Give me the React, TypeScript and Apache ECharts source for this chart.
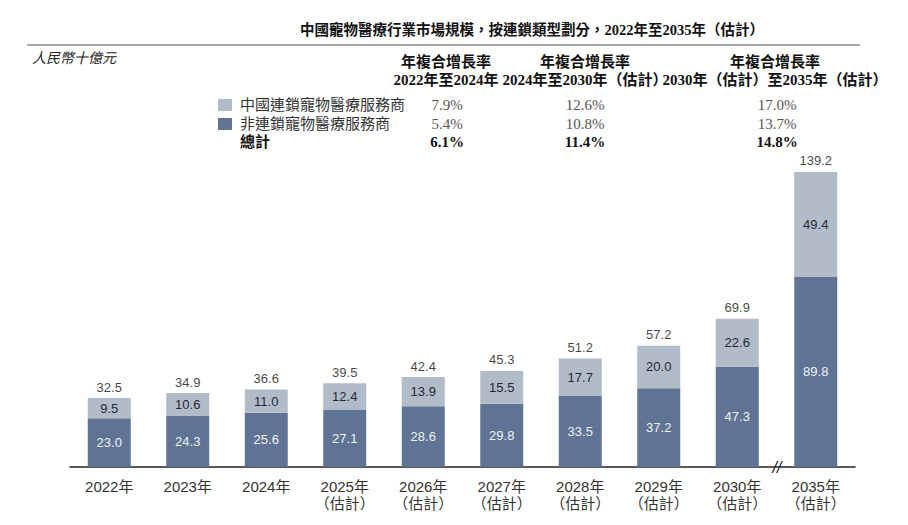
import React, { useEffect, useRef } from "react";
import * as echarts from "echarts";

const categories = [
  "2022年", "2023年", "2024年", "2025年\n（估計）", "2026年\n（估計）", "2027年\n（估計）",
  "2028年\n（估計）", "2029年\n（估計）", "2030年\n（估計）", "2035年\n（估計）",
];
const nonChain = [23.0, 24.3, 25.6, 27.1, 28.6, 29.8, 33.5, 37.2, 47.3, 89.8];
const chain = [9.5, 10.6, 11.0, 12.4, 13.9, 15.5, 17.7, 20.0, 22.6, 49.4];
const totals = [32.5, 34.9, 36.6, 39.5, 42.4, 45.3, 51.2, 57.2, 69.9, 139.2];

const seriesNames = ["中國連鎖寵物醫療服務商", "非連鎖寵物醫療服務商", "總計"];
const cagrHeadLine1 = ["年複合增長率", "年複合增長率", "年複合增長率"];
const cagrHeadLine2 = ["2022年至2024年", "2024年至2030年（估計）", "2030年（估計）至2035年（估計）"];
const cagrChain = ["7.9%", "12.6%", "17.0%"];
const cagrNonChain = ["5.4%", "10.8%", "13.7%"];
const cagrTotal = ["6.1%", "11.4%", "14.8%"];

const title = "中國寵物醫療行業市場規模，按連鎖類型劃分，2022年至2035年（估計）";
const unitLabel = "人民幣十億元";

const DARK = "#5f7494";
const LIGHT = "#b2bbc8";
const SERIF = '"Liberation Serif", "Noto Sans CJK TC", serif';
const SANS = '"Liberation Sans", "Noto Sans CJK TC", sans-serif';

export default function App() {
  const ref = useRef<HTMLDivElement>(null);
  useEffect(() => {
    if (!ref.current) return;
    const chart = echarts.init(ref.current, undefined, { renderer: "svg" });

    const headCenters = [438, 577, 767];
    const valueCenters = [439, 577, 769];
    const rowY = [97, 116, 134];

    const graphics: any[] = [
      {
        type: "text", x: 524, y: 22,
        style: { text: title, font: `bold 14.5px ${SERIF}`, fill: "#111", textAlign: "center", textVerticalAlign: "middle" },
      },
      {
        type: "line", shape: { x1: 19, y1: 37, x2: 852, y2: 37 },
        style: { stroke: "#8a8a8a", lineWidth: 1.5 },
      },
      {
        type: "text", x: 24, y: 50,
        style: { text: unitLabel, font: `italic 14px ${SERIF}`, fill: "#222", textVerticalAlign: "middle" },
      },
    ];
    for (let i = 0; i < 3; i++) {
      graphics.push({
        type: "text", x: headCenters[i], y: 54,
        style: { text: cagrHeadLine1[i], font: `bold 15px ${SERIF}`, fill: "#111", textAlign: "center", textVerticalAlign: "middle" },
      });
      graphics.push({
        type: "text", x: headCenters[i], y: 72,
        style: { text: cagrHeadLine2[i], font: `bold 15px ${SERIF}`, fill: "#111", textAlign: "center", textVerticalAlign: "middle" },
      });
      const rows = [cagrChain[i], cagrNonChain[i], cagrTotal[i]];
      rows.forEach((t, r) => {
        graphics.push({
          type: "text", x: valueCenters[i], y: rowY[r],
          style: {
            text: t,
            font: `${r === 2 ? "bold " : ""}15px ${SERIF}`,
            fill: r === 2 ? "#111" : "#555",
            textAlign: "center", textVerticalAlign: "middle",
          },
        });
      });
    }
    const legendColors = [LIGHT, DARK];
    seriesNames.forEach((n, r) => {
      if (r < 2) {
        graphics.push({
          type: "rect", shape: { x: 210, y: rowY[r] - 6, width: 14, height: 12 },
          style: { fill: legendColors[r] },
        });
      }
      graphics.push({
        type: "text", x: 232, y: rowY[r],
        style: {
          text: n, font: `${r === 2 ? "bold " : ""}15px ${SERIF}`,
          fill: r === 2 ? "#111" : "#333", textVerticalAlign: "middle",
        },
      });
    });
    graphics.push({
      type: "text", x: 769, y: 459,
      style: { text: "//", font: `italic 16px ${SANS}`, fill: "#222", textAlign: "center", textVerticalAlign: "middle" },
    });

    chart.setOption({
      animation: false,
      grid: { left: 62, right: 45, top: 141, bottom: 50, containLabel: false },
      xAxis: {
        type: "category",
        data: categories,
        axisLine: { lineStyle: { color: "#222", width: 1.5 } },
        axisTick: { show: false },
        axisLabel: { color: "#333", fontSize: 15, fontFamily: SANS, margin: 11, lineHeight: 17 },
      },
      yAxis: { type: "value", min: 0, max: 150, show: false, splitLine: { show: false } },
      graphic: graphics,
      series: [
        {
          name: seriesNames[1], type: "bar", stack: "s", data: nonChain, barWidth: 43,
          itemStyle: { color: DARK },
          label: { show: true, position: "inside", color: "#eef2f7", fontSize: 13, fontFamily: SANS, formatter: (p: any) => p.value.toFixed(1) },
        },
        {
          name: seriesNames[0], type: "bar", stack: "s", data: chain, barWidth: 43,
          itemStyle: { color: LIGHT },
          label: { show: true, position: "inside", color: "#1e2a38", fontSize: 13, fontFamily: SANS, formatter: (p: any) => p.value.toFixed(1) },
        },
        {
          name: seriesNames[2], type: "scatter", data: totals, symbolSize: 1,
          itemStyle: { color: "rgba(0,0,0,0)" },
          label: { show: true, position: "top", distance: 4, color: "#111", fontSize: 13, fontFamily: SANS, formatter: (p: any) => p.value.toFixed(1) },
        },
      ],
    });
    return () => chart.dispose();
  }, []);
  return <div ref={ref} style={{ width: 892, height: 509 }} />;
}
